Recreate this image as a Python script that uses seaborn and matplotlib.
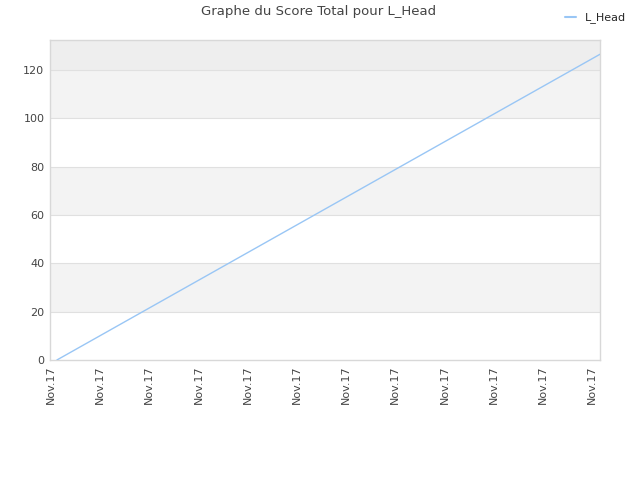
import matplotlib
matplotlib.use("Agg")
import matplotlib.pyplot as plt
import seaborn as sns
import pandas as pd

# Data
x_pos = [0.12, 11.16]
scores = [0.0, 126.5]
tick_pos = list(range(12))
tick_labels = ["Nov.17"] * 12
y_ticks = [0, 20, 40, 60, 80, 100, 120]
series_name = "L_Head"
title = "Graphe du Score Total pour L_Head"

sns.set_theme(style="white")
plt.rcParams['font.family'] = ['DejaVu Sans']

fig = plt.figure(figsize=(6.4, 4.8), dpi=100)
ax = fig.add_axes([50/640, 120/480, 550/640, 320/480])

ymax = 132.4
# background bands
bands = [(20, 40, "#f3f3f3"), (60, 80, "#f3f3f3"), (100, 120, "#f3f3f3"), (120, ymax, "#eeeeee")]
for lo, hi, c in bands:
    ax.axhspan(lo, hi, color=c, zorder=0, lw=0)
for yt in y_ticks[1:]:
    ax.axhline(yt, color="#e0e0e0", lw=0.8, zorder=1)

df = pd.DataFrame({"x": x_pos, "score": scores, "serie": series_name})
sns.lineplot(data=df, x="x", y="score", hue="serie", palette=["#99c6f5"], lw=1, ax=ax, legend=False, zorder=3)

ax.set_xlim(-0.02, 11.16)
ax.set_ylim(0, ymax)
ax.set_xticks(tick_pos)
ax.set_xticklabels(tick_labels, rotation=90, fontsize=8, color="#444444")
ax.set_yticks(y_ticks)
ax.set_yticklabels([str(v) for v in y_ticks], fontsize=8, color="#444444")
ax.tick_params(axis="both", length=0, pad=4)
ax.set_xlabel("")
ax.set_ylabel("")
for s in ax.spines.values():
    s.set_color("#d8d8d8")
    s.set_linewidth(1)

fig.text(0.497, 0.99, title, ha="center", va="top", fontsize=9.5, color="#444444")
fig.legend(handles=[plt.Line2D([], [], color="#99c6f5", lw=1.5)], labels=[series_name],
           loc="upper right", bbox_to_anchor=(0.994, 0.995), frameon=False, fontsize=8,
           handlelength=1.0, handletextpad=0.8)

fig.savefig("out.png", dpi=100)
